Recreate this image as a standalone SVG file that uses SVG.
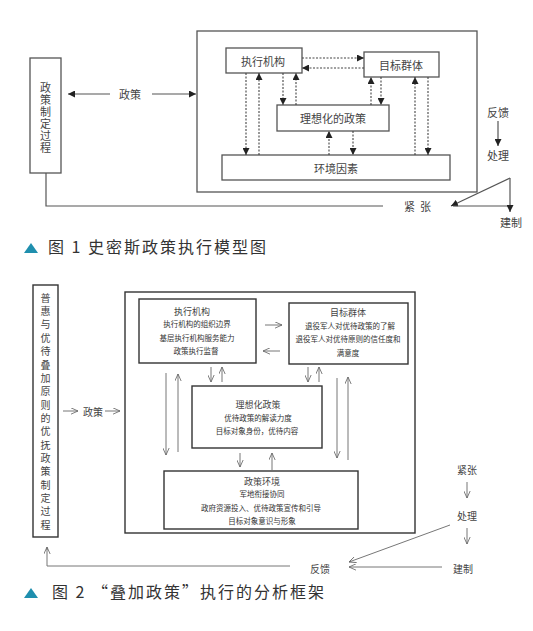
<svg xmlns="http://www.w3.org/2000/svg" width="533" height="631" viewBox="0 0 533 631">
<style>
text{font-family:"Noto Sans CJK SC","Noto Sans",sans-serif;fill:#444;}
.c{text-anchor:middle;dominant-baseline:central;}
.v{writing-mode:vertical-rl;text-anchor:start;}
.b1{fill:#fff;stroke:#555;stroke-width:1.3;}
.b2{fill:#fff;stroke:#333;stroke-width:1.4;}
.t1{font-size:11px;}
.h2{font-size:9px;}
.s2{font-size:7.5px;fill:#333;}
.l2{font-size:10px;}
.ln1{fill:none;stroke:#555;stroke-width:1.2;}
.d1{fill:none;stroke:#444;stroke-width:1.1;stroke-dasharray:2 1.5;}
.ln2{fill:none;stroke:#777;stroke-width:1;}
.cap{font-size:16px;fill:#333;letter-spacing:2px;}
</style>
<defs>
<marker id="f" viewBox="0 0 10 10" refX="10" refY="5" markerWidth="7" markerHeight="7" markerUnits="userSpaceOnUse" orient="auto"><path d="M0,0 L10,5 L0,10 Z" fill="#222"/></marker>
<marker id="o" viewBox="0 0 10 10" refX="10" refY="5" markerWidth="7" markerHeight="7" markerUnits="userSpaceOnUse" orient="auto"><path d="M0,0.5 L10,5 L0,9.5" fill="none" stroke="#666" stroke-width="1.2"/></marker>
</defs>

<!-- Figure 1 -->
<g id="fig1-outer"><rect class="b1" x="197" y="31" width="280" height="161"/></g>
<g id="fig1-process">
<rect class="b1" x="30" y="58" width="31" height="115"/>
<text class="v t1" x="45.5" y="82.5" style="letter-spacing:1px">政策制定过程</text>
</g>
<g id="fig1-agency"><rect class="b1" x="226" y="48" width="76" height="25"/><text class="c t1" x="263" y="60.5">执行机构</text></g>
<g id="fig1-target"><rect class="b1" x="364" y="52" width="75" height="25"/><text class="c t1" x="401" y="64.5">目标群体</text></g>
<g id="fig1-policy"><rect class="b1" x="277" y="105" width="112" height="26"/><text class="c t1" x="333" y="118">理想化的政策</text></g>
<g id="fig1-env"><rect class="b1" x="222" y="155" width="228" height="25"/><text class="c t1" x="336" y="167.5">环境因素</text></g>
<g id="fig1-labels">
<text class="c t1" x="130" y="94">政策</text>
<text class="c t1" x="498" y="112">反馈</text>
<text class="c t1" x="498" y="155">处理</text>
<text class="c t1" x="511" y="222">建制</text>
<text class="c t1" x="420" y="206" style="letter-spacing:5px">紧张</text>
</g>
<g id="fig1-connectors">
<line class="ln1" x1="110" y1="94" x2="68" y2="94" marker-end="url(#f)"/>
<line class="ln1" x1="152" y1="94" x2="196" y2="94" marker-end="url(#f)"/>
<line class="d1" x1="246" y1="73" x2="246" y2="155" marker-end="url(#f)"/>
<line class="d1" x1="259" y1="155" x2="259" y2="73" marker-end="url(#f)"/>
<line class="d1" x1="283" y1="73" x2="283" y2="105" marker-end="url(#f)"/>
<line class="d1" x1="296" y1="105" x2="296" y2="73" marker-end="url(#f)"/>
<line class="d1" x1="302" y1="58" x2="364" y2="58" marker-end="url(#f)"/>
<line class="d1" x1="364" y1="68" x2="302" y2="68" marker-end="url(#f)"/>
<line class="d1" x1="371" y1="105" x2="371" y2="77" marker-end="url(#f)"/>
<line class="d1" x1="381" y1="77" x2="381" y2="105" marker-end="url(#f)"/>
<line class="d1" x1="415" y1="155" x2="415" y2="77" marker-end="url(#f)"/>
<line class="d1" x1="428" y1="77" x2="428" y2="155" marker-end="url(#f)"/>
<line class="d1" x1="329" y1="155" x2="329" y2="131" marker-end="url(#f)"/>
<line class="d1" x1="353" y1="131" x2="353" y2="155" marker-end="url(#f)"/>
<polyline class="ln1" points="46,173 46,206 383,206"/>
<line class="ln1" x1="498" y1="121" x2="498" y2="146" marker-end="url(#f)"/>
<line class="ln1" x1="510" y1="178" x2="451" y2="206" marker-end="url(#f)"/>
<line class="ln1" x1="453" y1="206" x2="510" y2="206"/>
<line class="ln1" x1="510" y1="178" x2="510" y2="212" marker-end="url(#f)"/>
</g>
<g id="caption1">
<path d="M24,253 L31,243 L38,253 Z" fill="#1f8fae"/>
<text class="cap" x="48" y="253">图 1  史密斯政策执行模型图</text>
</g>

<!-- Figure 2 -->
<g id="fig2-outer"><rect class="b2" x="125" y="292" width="290" height="241"/></g>
<g id="fig2-process">
<rect class="b2" x="33" y="285" width="25" height="252"/>
<text class="v l2" x="45.5" y="293" style="letter-spacing:3.35px">普惠与优待叠加原则的优抚政策制定过程</text>
</g>
<g id="fig2-agency">
<rect class="b2" x="139" y="299" width="117" height="64"/>
<text class="c h2" x="192" y="311">执行机构</text>
<text class="c s2" x="197" y="323.5">执行机构的组织边界</text>
<text class="c s2" x="197" y="337">基层执行机构服务能力</text>
<text class="c s2" x="196" y="350.5">政策执行监督</text>
</g>
<g id="fig2-target">
<rect class="b2" x="289" y="303" width="119" height="61"/>
<text class="c h2" x="348" y="312.5">目标群体</text>
<text class="c s2" x="350" y="325.5">退役军人对优待政策的了解</text>
<text class="c s2" x="348" y="338.5">退役军人对优待原则的信任度和</text>
<text class="c s2" x="348" y="352">满意度</text>
</g>
<g id="fig2-policy">
<rect class="b2" x="192" y="386" width="130" height="62"/>
<text class="c h2" x="258" y="404">理想化政策</text>
<text class="c s2" x="258" y="417">优待政策的解读力度</text>
<text class="c s2" x="257" y="430.5">目标对象身份，优待内容</text>
</g>
<g id="fig2-env">
<rect class="b2" x="164" y="471" width="194" height="58"/>
<text class="c h2" x="262" y="481">政策环境</text>
<text class="c s2" x="262" y="493.5">军地衔接协同</text>
<text class="c s2" x="261" y="507">政府资源投入、优待政策宣传和引导</text>
<text class="c s2" x="262" y="520">目标对象意识与形象</text>
</g>
<g id="fig2-labels">
<text class="c l2" x="93" y="411">政策</text>
<text class="c l2" x="467" y="469">紧张</text>
<text class="c l2" x="467" y="515">处理</text>
<text class="c l2" x="463" y="568">建制</text>
<text class="c l2" x="320" y="568">反馈</text>
</g>
<g id="fig2-connectors">
<line class="ln2" x1="63" y1="411" x2="78" y2="411" marker-end="url(#o)"/>
<line class="ln2" x1="105" y1="411" x2="120" y2="411" marker-end="url(#o)"/>
<line class="ln2" x1="265" y1="325" x2="282" y2="325" marker-end="url(#o)"/>
<line class="ln2" x1="280" y1="351" x2="263" y2="351" marker-end="url(#o)"/>
<line class="ln2" x1="211" y1="367" x2="211" y2="382" marker-end="url(#o)"/>
<line class="ln2" x1="222" y1="382" x2="222" y2="367" marker-end="url(#o)"/>
<line class="ln2" x1="308" y1="367" x2="308" y2="382" marker-end="url(#o)"/>
<line class="ln2" x1="319" y1="382" x2="319" y2="367" marker-end="url(#o)"/>
<line class="ln2" x1="166" y1="373" x2="166" y2="455" marker-end="url(#o)"/>
<line class="ln2" x1="178" y1="452" x2="178" y2="374" marker-end="url(#o)"/>
<line class="ln2" x1="337" y1="378" x2="337" y2="458" marker-end="url(#o)"/>
<line class="ln2" x1="348" y1="460" x2="348" y2="377" marker-end="url(#o)"/>
<line class="ln2" x1="240" y1="453" x2="240" y2="467" marker-end="url(#o)"/>
<line class="ln2" x1="272" y1="470" x2="272" y2="453" marker-end="url(#o)"/>
<line class="ln2" x1="467" y1="482" x2="467" y2="498" marker-end="url(#o)"/>
<line class="ln2" x1="467" y1="528" x2="467" y2="544" marker-end="url(#o)"/>
<line class="ln2" x1="450" y1="525" x2="349" y2="562" marker-end="url(#o)"/>
<line class="ln2" x1="442" y1="567" x2="349" y2="567" marker-end="url(#o)"/>
<polyline class="ln2" points="290,566 47,566 47,548"/>
<line class="ln2" x1="47" y1="550" x2="47" y2="547" marker-end="url(#o)"/>
</g>
<g id="caption2">
<path d="M24,598 L31,588 L38,598 Z" fill="#1f8fae"/>
<text class="cap" x="52" y="598">图 2  “叠加政策”执行的分析框架</text>
</g>
</svg>
